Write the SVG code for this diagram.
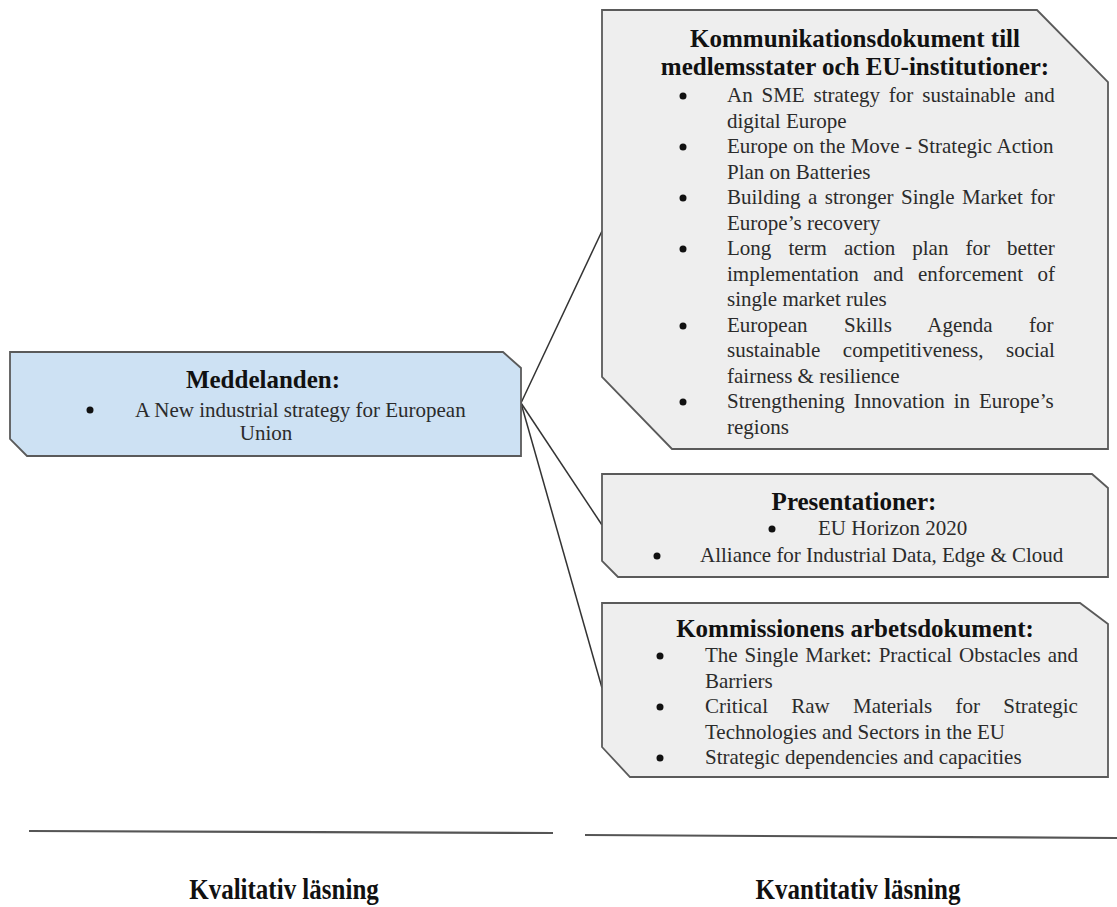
<svg xmlns="http://www.w3.org/2000/svg" width="1117" height="907" viewBox="0 0 1117 907">
<style>
.box{stroke:#5a5a5a;stroke-width:1.8;stroke-linejoin:miter}
.blue{fill:#cde1f3}
.gray{fill:#eeeeee}
.title{font-family:"Liberation Serif","Times New Roman",serif;font-weight:bold;font-size:25px;fill:#111;text-anchor:middle}
.body{font-family:"Liberation Serif","Times New Roman",serif;font-size:21px;fill:#2b2b2b}
.bul{fill:#111}
.conn{stroke:#333;stroke-width:1.5;fill:none}
.rule{stroke:#555;stroke-width:2.2;fill:none}
.lab{font-family:"Liberation Serif","Times New Roman",serif;font-weight:bold;font-size:25px;fill:#111;text-anchor:middle}
</style>
<rect width="1117" height="907" fill="#ffffff"/>
<g id="connectors">
<line class="conn" x1="521" y1="403" x2="602" y2="231"/>
<line class="conn" x1="521" y1="403" x2="602" y2="525"/>
<line class="conn" x1="521" y1="403" x2="602" y2="688"/>
</g>
<g id="meddelanden">
<path class="box blue" d="M10,352 L503,352 L521,368 L521,456 L27,456 L10,439 Z"/>
<text class="title" x="263" y="388">Meddelanden:</text>
<circle class="bul" cx="90" cy="410" r="3.5"/>
<text class="body" x="135" y="417">A New industrial strategy for European</text>
<text class="body" x="266" y="440" text-anchor="middle">Union</text>
</g>
<g id="kommunikation">
<path class="box gray" d="M602,10 L1037,10 L1108,82 L1108,449 L672,449 L602,377 Z"/>
<text class="title" x="855" y="47">Kommunikationsdokument till</text>
<text class="title" x="855" y="75">medlemsstater och EU-institutioner:</text>
<circle class="bul" cx="683" cy="96" r="3.5"/>
<circle class="bul" cx="683" cy="147" r="3.5"/>
<circle class="bul" cx="683" cy="198" r="3.5"/>
<circle class="bul" cx="683" cy="249" r="3.5"/>
<circle class="bul" cx="683" cy="326" r="3.5"/>
<circle class="bul" cx="683" cy="402" r="3.5"/>
<text class="body" x="727" y="102" word-spacing="3.6">An SME strategy for sustainable and</text>
<text class="body" x="727" y="127.5">digital Europe</text>
<text class="body" x="727" y="153" word-spacing="0.2">Europe on the Move - Strategic Action</text>
<text class="body" x="727" y="178.5">Plan on Batteries</text>
<text class="body" x="727" y="204" word-spacing="2.2">Building a stronger Single Market for</text>
<text class="body" x="727" y="229.5">Europe’s recovery</text>
<text class="body" x="727" y="255" word-spacing="11.8">Long term action plan for better</text>
<text class="body" x="727" y="280.5" word-spacing="9.2">implementation and enforcement of</text>
<text class="body" x="727" y="306">single market rules</text>
<text class="body" x="727" y="331.5" word-spacing="31.3">European Skills Agenda for</text>
<text class="body" x="727" y="357" word-spacing="17.3">sustainable competitiveness, social</text>
<text class="body" x="727" y="382.5">fairness &amp; resilience</text>
<text class="body" x="727" y="408" word-spacing="3.7">Strengthening Innovation in Europe’s</text>
<text class="body" x="727" y="433.5">regions</text>
</g>
<g id="presentationer">
<path class="box gray" d="M602,474 L1092,474 L1108,488 L1108,577 L618,577 L602,561 Z"/>
<text class="title" x="854" y="510">Presentationer:</text>
<circle class="bul" cx="772" cy="529" r="3.5"/>
<text class="body" x="818" y="535">EU Horizon 2020</text>
<circle class="bul" cx="657" cy="556" r="3.5"/>
<text class="body" x="700" y="562">Alliance for Industrial Data, Edge &amp; Cloud</text>
</g>
<g id="kommissionens">
<path class="box gray" d="M602,603 L1080,603 L1108,624 L1108,777 L630,777 L602,747 Z"/>
<text class="title" x="855" y="637">Kommissionens arbetsdokument:</text>
<circle class="bul" cx="660" cy="656" r="3.5"/>
<circle class="bul" cx="660" cy="707" r="3.5"/>
<circle class="bul" cx="660" cy="758" r="3.5"/>
<text class="body" x="705" y="662" word-spacing="1.7">The Single Market: Practical Obstacles and</text>
<text class="body" x="705" y="687.5">Barriers</text>
<text class="body" x="705" y="713" word-spacing="18">Critical Raw Materials for Strategic</text>
<text class="body" x="705" y="738.5">Technologies and Sectors in the EU</text>
<text class="body" x="705" y="764">Strategic dependencies and capacities</text>
</g>
<g id="footer">
<line class="rule" x1="29" y1="831" x2="553" y2="833"/>
<line class="rule" x1="585" y1="835" x2="1117" y2="838"/>
<text class="lab" transform="translate(284,899) scale(1,1.15)">Kvalitativ läsning</text>
<text class="lab" transform="translate(858,899) scale(1,1.15)">Kvantitativ läsning</text>
</g>
</svg>
